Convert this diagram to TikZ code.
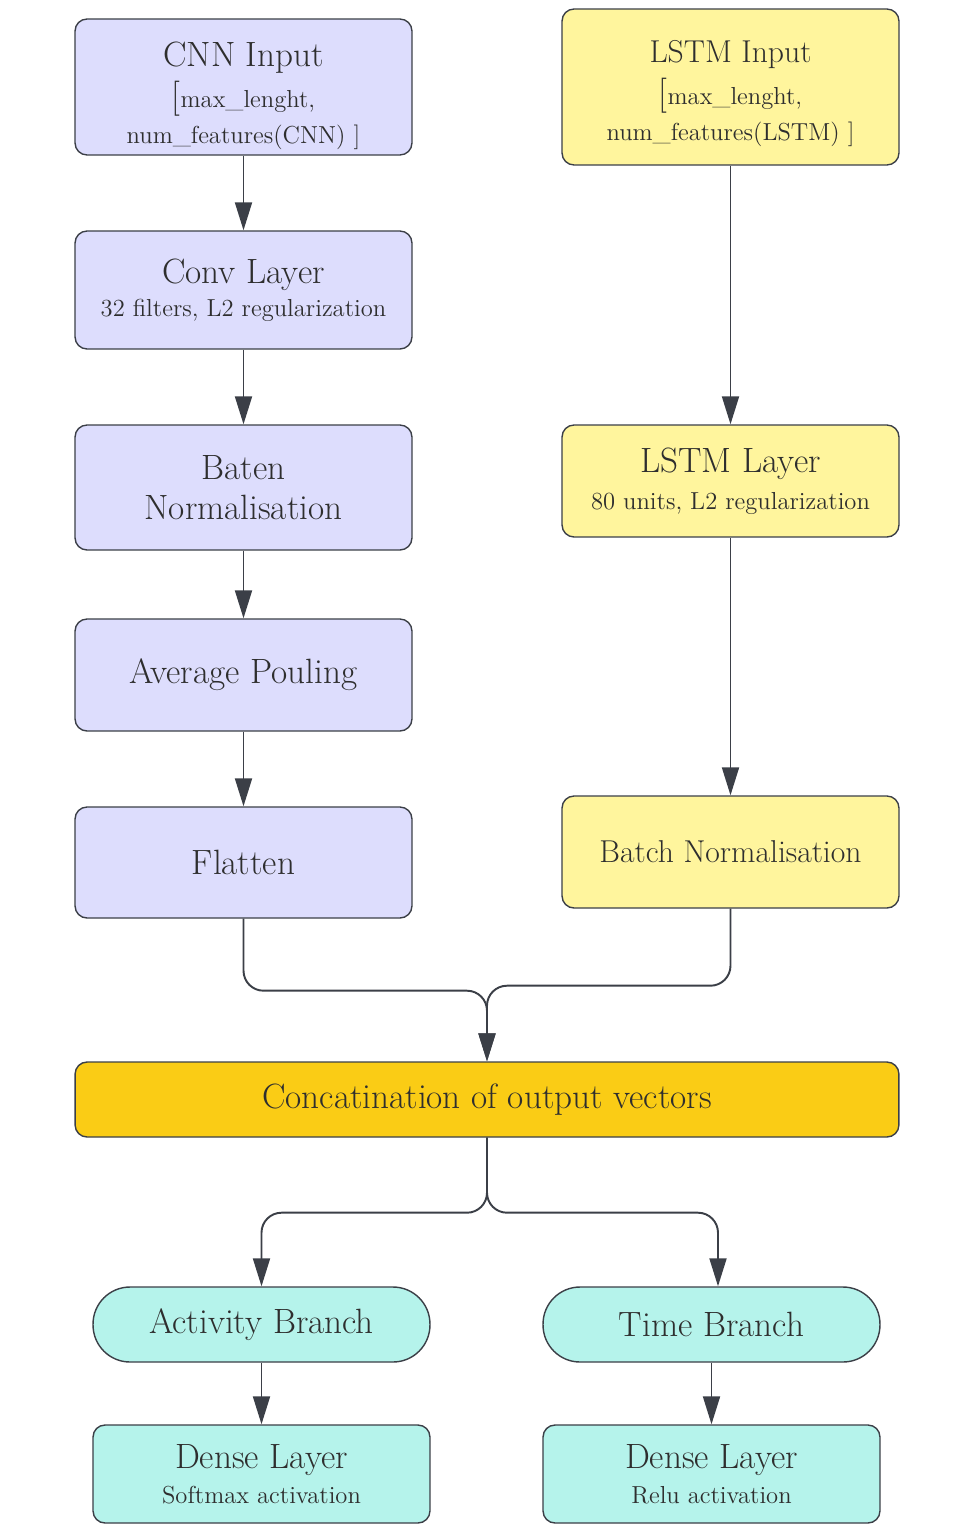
\documentclass[tikz,border=0pt]{standalone}
\usetikzlibrary{arrows.meta}
\definecolor{ink}{HTML}{3B3F47}
\definecolor{cnnfill}{HTML}{DDDDFD}
\definecolor{lstmfill}{HTML}{FFF59D}
\definecolor{catfill}{HTML}{FACC15}
\definecolor{headfill}{HTML}{B5F3EB}
\newcommand{\ttl}{\fontsize{20}{23}\selectfont}
\newcommand{\midt}{\fontsize{18}{19}\selectfont}
\newcommand{\subt}{\fontsize{14}{19}\selectfont}
\begin{document}
\begin{tikzpicture}[x=0.02cm, y=-0.02cm,
    layer/.style={draw=ink, line width=0.8pt, rounded corners=0.24cm, text=black!82, align=center, minimum width=6.74cm, inner sep=0pt},
    cnn/.style={layer, fill=cnnfill},
    lstm/.style={layer, fill=lstmfill},
    headbox/.style={layer, fill=headfill},
    link/.style={draw=ink, line width=1.1pt, rounded corners=0.4cm, -{Triangle[length=0.56cm, width=0.34cm]}}]
    \useasboundingbox (0,0) rectangle (975,1538);

    % cnn branch
    \node[cnn, minimum height=2.72cm] (cin) at (243.5,87) {\rule{0pt}{24pt}\ttl CNN Input\\[3pt] \subt{\ttl[}max\_lenght,\\[4pt] \subt num\_features(CNN) ]};
    \node[cnn, minimum height=2.36cm] (conv) at (243.5,290) {\ttl Conv Layer\\[4pt] \subt 32 filters, L2 regularization};
    \node[cnn, minimum height=2.5cm] (bat) at (243.5,487.5) {\ttl Baten\\[8pt] \ttl Normalisation};
    \node[cnn, minimum height=2.24cm] (pool) at (243.5,675) {\ttl Average Pouling};
    \node[cnn, minimum height=2.22cm] (flat) at (243.5,862.5) {\ttl Flatten};

    % lstm branch
    \node[lstm, minimum height=3.12cm] (lin) at (730.5,87) {\rule{0pt}{20pt}\midt LSTM Input\\[4pt] \subt{\ttl[}max\_lenght,\\[4pt] \subt num\_features(LSTM) ]};
    \node[lstm, minimum height=2.24cm] (lay) at (730.5,481) {\ttl LSTM Layer\\[6pt] \subt 80 units, L2 regularization};
    \node[lstm, minimum height=2.24cm] (bn) at (730.5,852) {\midt Batch Normalisation};

    % merge
    \node[layer, fill=catfill, minimum width=16.48cm, minimum height=1.5cm] (cat) at (487,1099.5) {\ttl Concatination of output vectors};

    % heads
    \node[headbox, minimum height=1.5cm, rounded corners=0.74cm] (act) at (261.5,1324.5) {\ttl Activity Branch};
    \node[headbox, minimum height=1.5cm, rounded corners=0.74cm] (tim) at (711.5,1324.5) {\ttl Time Branch};
    \node[headbox, minimum height=1.96cm] (dsm) at (261.5,1474) {\ttl Dense Layer\\[5pt] \subt Softmax activation};
    \node[headbox, minimum height=1.96cm] (drl) at (711.5,1474) {\ttl Dense Layer\\[5pt] \subt Relu activation};

    % connectors
    \draw[link] (cin) -- (conv);
    \draw[link] (conv) -- (bat);
    \draw[link] (bat) -- (pool);
    \draw[link] (pool) -- (flat);
    \draw[link] (lin) -- (lay);
    \draw[link] (lay) -- (bn);
    \draw[link] (flat.south) -- ++(0,72) -| (cat.north);
    \draw[link] (bn.south) -- ++(0,77) -| (cat.north);
    \draw[link] (cat.south) -- ++(0,75) -| (act.north);
    \draw[link] (cat.south) -- ++(0,75) -| ([xshift=0.13cm]tim.north);
    \draw[link] (act) -- (dsm);
    \draw[link] (tim) -- (drl);
\end{tikzpicture}
\end{document}
